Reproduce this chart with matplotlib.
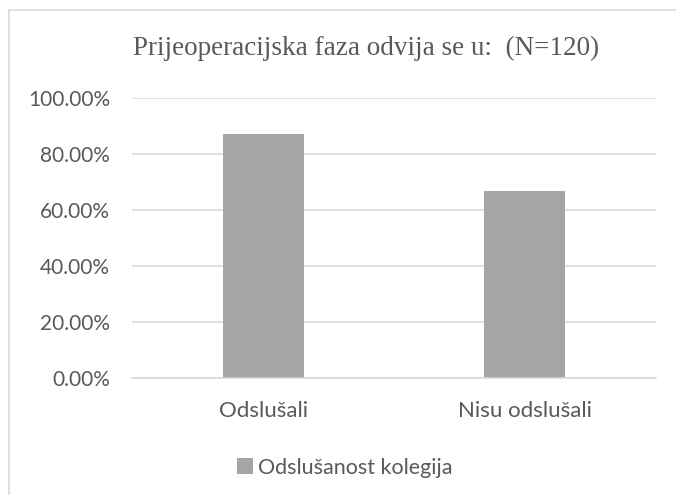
import numpy as np
import matplotlib.pyplot as plt
from matplotlib.patches import Rectangle
from matplotlib.ticker import PercentFormatter

# podaci
kategorije = ['Odslušali', 'Nisu odslušali']
vrijednosti = [87.2, 66.9]
naziv_serije = 'Odslušanost kolegija'
naslov = 'Prijeoperacijska faza odvija se u:  (N=120)'

siva_tekst = '#595959'
siva_stupac = '#A5A5A5'
siva_mreza = '#D9D9D9'

fig = plt.figure(figsize=(6.76, 4.95), dpi=100)
ax = fig.add_axes([0.196, 0.237, 0.774, 0.565])

x = np.arange(len(kategorije))
ax.bar(x, vrijednosti, width=0.31, color=siva_stupac, label=naziv_serije, zorder=2)

ax.set_xlim(-0.5, len(kategorije) - 0.5)
ax.set_ylim(0, 100)
ax.set_yticks(np.arange(0, 101, 20))
ax.yaxis.set_major_formatter(PercentFormatter(decimals=2))
ax.set_xticks(x)
ax.set_xticklabels(kategorije)

ax.grid(axis='y', color=siva_mreza, linewidth=1.2, zorder=0)
for s in ['top', 'right', 'left']:
    ax.spines[s].set_visible(False)
ax.spines['bottom'].set_color(siva_mreza)
ax.spines['bottom'].set_linewidth(1.2)
ax.tick_params(length=0, colors=siva_tekst)
ax.tick_params(axis='y', labelsize=15, pad=16)
ax.tick_params(axis='x', labelsize=16, pad=17)
for lbl in ax.get_xticklabels() + ax.get_yticklabels():
    lbl.set_family('Lato')

fig.text(0.542, 0.903, naslov, ha='center', va='center', fontsize=19.5,
         family='Liberation Serif', color=siva_tekst)

leg = fig.legend(loc='center', bbox_to_anchor=(0.51, 0.055), frameon=False,
                 handlelength=0.75, handleheight=0.75, handletextpad=0.25,
                 prop={'family': 'Lato', 'size': 15.5})
for t in leg.get_texts():
    t.set_color(siva_tekst)

# okvir grafikona
fig.patches.append(Rectangle((8.5 / 676, -0.1), 1.2, 1.1 - 9.5 / 495,
                             transform=fig.transFigure, fill=False,
                             edgecolor=siva_mreza, linewidth=1.2))

fig.savefig('out.png', dpi=100)
